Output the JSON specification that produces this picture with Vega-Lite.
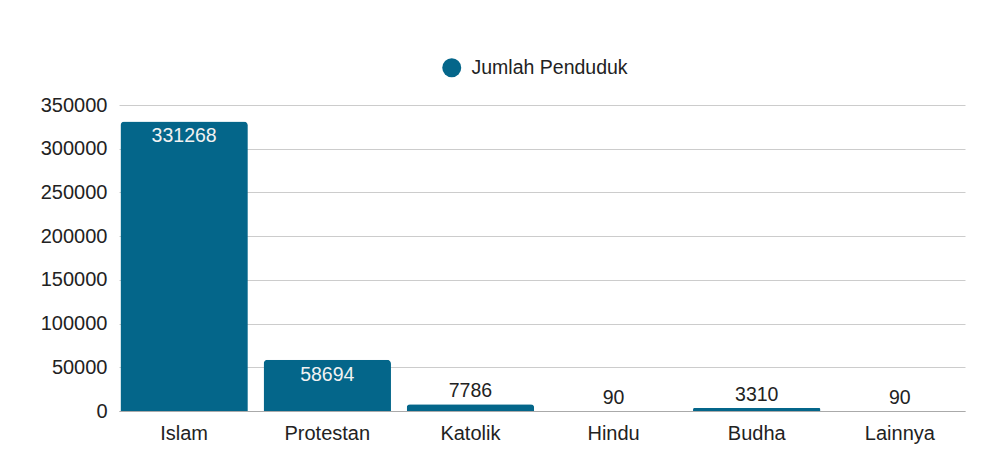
{
  "$schema": "https://vega.github.io/schema/vega-lite/v6.json",
  "autosize": {"type": "none"},
  "width": 846,
  "height": 306,
  "padding": {"left": 119, "top": 105, "right": 31, "bottom": 65},
  "background": "white",
  "config": {
    "view": {"stroke": null},
    "font": "Liberation Sans",
    "axis": {"labelFont": "Liberation Sans", "labelColor": "#222222", "labelFontSize": 20}
  },
  "data": {
    "values": [
      {"agama": "Islam", "jumlah": 331268, "series": "Jumlah Penduduk"},
      {"agama": "Protestan", "jumlah": 58694, "series": "Jumlah Penduduk"},
      {"agama": "Katolik", "jumlah": 7786, "series": "Jumlah Penduduk"},
      {"agama": "Hindu", "jumlah": 90, "series": "Jumlah Penduduk"},
      {"agama": "Budha", "jumlah": 3310, "series": "Jumlah Penduduk"},
      {"agama": "Lainnya", "jumlah": 90, "series": "Jumlah Penduduk"}
    ]
  },
  "encoding": {
    "x": {
      "field": "agama", "type": "nominal", "sort": null,
      "scale": {"paddingInner": 0.11, "paddingOuter": 0.01},
      "axis": {"title": null, "labelAngle": 0, "ticks": false, "labelPadding": 12, "domainColor": "#aaaaaa", "grid": false}
    },
    "y": {
      "field": "jumlah", "type": "quantitative",
      "scale": {"domain": [0, 350000], "nice": false},
      "axis": {"title": null, "values": [0, 50000, 100000, 150000, 200000, 250000, 300000, 350000], "format": "d", "ticks": false, "domain": false, "labelPadding": 12, "gridColor": "#cccccc"}
    }
  },
  "layer": [
    {
      "mark": {"type": "bar", "cornerRadiusTopLeft": 4, "cornerRadiusTopRight": 4},
      "encoding": {
        "color": {
          "field": "series", "type": "nominal",
          "scale": {"range": ["#04668a"]},
          "legend": {
            "title": null, "orient": "none", "legendX": 323, "legendY": -47,
            "symbolType": "circle", "symbolSize": 360, "symbolStrokeWidth": 0, "labelOffset": 10,
            "labelFontSize": 19.5, "labelColor": "#222222", "labelFont": "Liberation Sans"
          }
        }
      }
    },
    {
      "transform": [{"filter": "datum.jumlah > 20000"}],
      "mark": {"type": "text", "baseline": "top", "dy": 6, "fontSize": 19.5, "color": "#f2f2f2"},
      "encoding": {"text": {"field": "jumlah", "type": "quantitative", "format": "d"}}
    },
    {
      "transform": [{"filter": "datum.jumlah <= 20000"}],
      "mark": {"type": "text", "baseline": "bottom", "dy": -3, "fontSize": 19.5, "color": "#222222"},
      "encoding": {"text": {"field": "jumlah", "type": "quantitative", "format": "d"}}
    }
  ]
}
